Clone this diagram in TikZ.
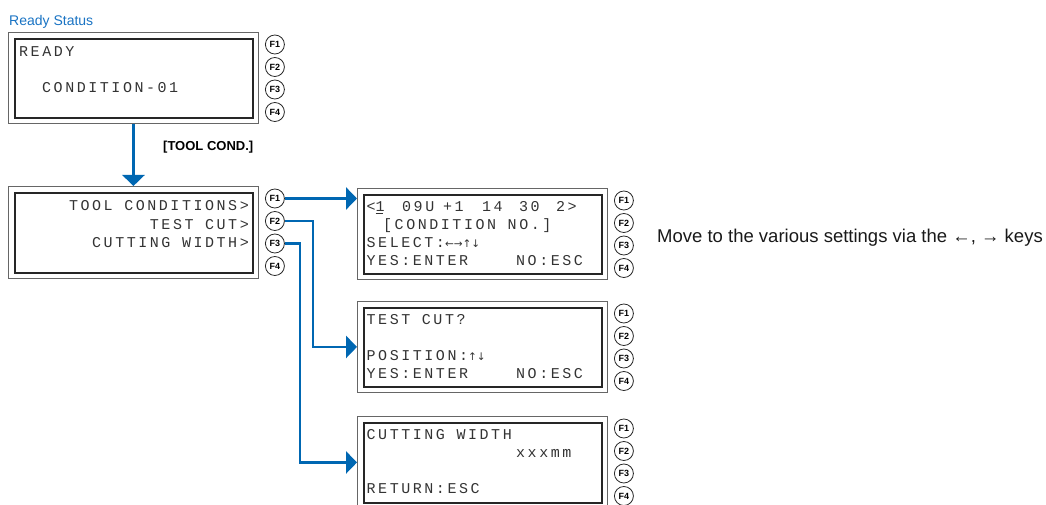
\documentclass[tikz,border=0pt]{standalone}
\usepackage{fontspec}
\setmainfont{Liberation Sans}
\newfontfamily\lcdfont[LetterSpace=17]{Liberation Mono}
\newfontfamily\arrfont{DejaVu Sans}
\usetikzlibrary{arrows.meta,calc}
\definecolor{flowblue}{RGB}{0,103,178}
\definecolor{titleblue}{RGB}{25,115,195}
\newcommand\lcdscreen[4]{% name, x, y, height
  \node[outerbox, minimum height=#4, anchor=north west] (#1) at (#2,#3) {};
  \draw[innerbox] ($(#1.north west)+(7,7)$) rectangle ($(#1.south east)+(-6,-6)$);
  \node[fkey] (#1f1) at ($(#1.north east)+(16,12.5)$) {F1};
  \node[fkey] (#1f2) at ($(#1.north east)+(16,35)$) {F2};
  \node[fkey] (#1f3) at ($(#1.north east)+(16,57.5)$) {F3};
  \node[fkey] (#1f4) at ($(#1.north east)+(16,80)$) {F4};
}
\newcommand\ulone{\rlap{\raisebox{-2.6pt}{\rule{7.5pt}{0.9pt}}}1}
\begin{document}
\begin{tikzpicture}[x=1pt,y=-1pt,
  outerbox/.style={draw=black!60, line width=0.9pt, minimum width=250, inner sep=0pt},
  innerbox/.style={draw=black!85, line width=2.4pt},
  fkey/.style={circle, draw=black!85, line width=0.8pt, minimum size=19pt, inner sep=0pt,
    font=\fontsize{9}{9}\selectfont\bfseries},
  lcd/.style={anchor=base west, inner sep=0pt, font=\lcdfont\fontsize{15}{15}\selectfont, text=black!80},
  lcdr/.style={lcd, anchor=base east},
  flow/.style={draw=flowblue, line width=2.8pt, -{Triangle[length=11pt,width=22pt]}},
  label/.style={anchor=base west, inner sep=0pt},
]
\useasboundingbox (0,0) rectangle (1046,505);

\node[label, text=titleblue, font=\fontsize{14}{14}\selectfont] (title) at (9,26) {Ready Status};

\lcdscreen{b1}{8}{32}{91}
\lcdscreen{b2}{8}{186}{92}
\lcdscreen{b3}{357}{188}{91}
\lcdscreen{b4}{357}{301}{91}
\lcdscreen{b5}{357}{416}{92}

% screen 1
\node[lcd] (t11) at (19,56.5) {READY};
\node[lcd] (t12) at (42,92.5) {CONDITION-01};
% screen 2
\node[lcdr] (t21) at (249,211) {TOOL CONDITIONS>};
\node[lcdr] (t22) at (249,229) {TEST CUT>};
\node[lcdr] (t23) at (249,247) {CUTTING WIDTH>};
% screen 3
\node[lcd] (t31a) at (366.5,211.5) {<\ulone};
\node[lcd] (t31b) at (402,211.5) {09U};
\node[lcd] (t31c) at (443,211.5) {+1};
\node[lcd] (t31d) at (482,211.5) {14};
\node[lcd] (t31e) at (519,211.5) {30};
\node[lcd] (t31f) at (556,211.5) {2>};
\node[lcd] (t32) at (383,229.5) {[CONDITION NO.]};
\node[lcd] (t33) at (366.5,247.5) {SELECT:{\arrfont\fontsize{10.5}{10.5}\selectfont ←→↑↓}};
\node[lcd] (t34) at (366.5,265.5) {YES:ENTER};
\node[lcd] (t35) at (516,265.5) {NO:ESC};
% screen 4
\node[lcd] (t41) at (366.5,324.5) {TEST CUT?};
\node[lcd] (t42) at (366.5,360.5) {POSITION:{\arrfont\fontsize{10.5}{10.5}\selectfont ↑↓}};
\node[lcd] (t43) at (366.5,378.5) {YES:ENTER};
\node[lcd] (t44) at (516,378.5) {NO:ESC};
% screen 5
\node[lcd] (t51) at (366.5,439.5) {CUTTING WIDTH};
\node[lcd] (t52) at (516,457.5) {xxxmm};
\node[lcd] (t53) at (366.5,493.5) {RETURN:ESC};

% connectors
\draw[flow] (b1.south) -- (b2.north);
\node[label, font=\fontsize{13}{13}\selectfont\bfseries] (cond) at (163,151) {[TOOL COND.]};

\coordinate (j2) at (313,0);
\coordinate (j3) at (300,0);
\draw[flow] (b2f1.east) -- (b2f1.east -| b3.west);
\draw[flow] (b2f2.east) -- (b2f2.east -| j2) |- (b4.west);
\draw[flow] (b2f3.east) -- (b2f3.east -| j3) |- (b5.west);

\node[label, font=\fontsize{18.5}{18.5}\selectfont, text=black!90] (note) at (657,242)
  {Move to the various settings via the ←, → keys};
\end{tikzpicture}
\end{document}
